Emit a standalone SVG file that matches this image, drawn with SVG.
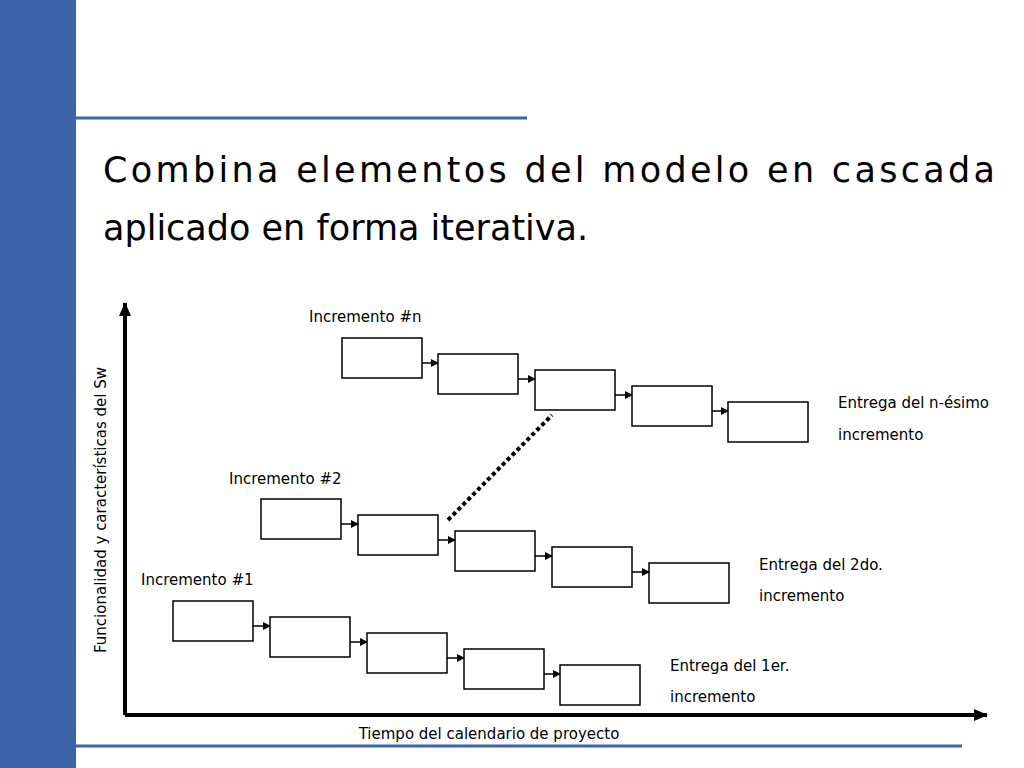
<svg xmlns="http://www.w3.org/2000/svg" width="1024" height="768" viewBox="0 0 1024 768">
<defs>
<style>
.b{fill:#fff;stroke:#000;stroke-width:1.5}
.c{stroke:#000;stroke-width:1.5;fill:none}
.t{font-family:"DejaVu Sans",sans-serif;font-size:15px;fill:#000}
.h{font-family:"Verdana","DejaVu Sans",sans-serif;font-size:35px;fill:#000}
</style>
<marker id="a" markerWidth="8" markerHeight="8" refX="7" refY="4" orient="auto" markerUnits="userSpaceOnUse"><path d="M0,0L8,4L0,8z" fill="#000"/></marker>
<marker id="ax" markerWidth="14" markerHeight="12" refX="13" refY="6" orient="auto" markerUnits="userSpaceOnUse"><path d="M0,0L14,6L0,12z" fill="#000"/></marker>
</defs>
<rect x="0" y="0" width="76" height="768" fill="#3B64A8"/>
<line x1="76" y1="118" x2="527" y2="118" stroke="#3B64A8" stroke-width="3"/>
<line x1="76" y1="746" x2="962" y2="746" stroke="#3B64A8" stroke-width="3"/>
<text class="h" x="103" y="182" textLength="892" lengthAdjust="spacing">Combina elementos del modelo en cascada</text>
<text class="h" x="103" y="240">aplicado en forma iterativa.</text>
<g id="axes">
<line x1="125" y1="715" x2="125" y2="303" stroke="#000" stroke-width="4" marker-end="url(#ax)"/>
<line x1="125" y1="715" x2="987" y2="715" stroke="#000" stroke-width="4" marker-end="url(#ax)"/>
<text class="t" x="489" y="739" text-anchor="middle">Tiempo del calendario de proyecto</text>
<text class="t" transform="translate(106,510) rotate(-90)" text-anchor="middle">Funcionalidad y características del Sw</text>
</g>
<g id="inc-n">
<text class="t" x="309" y="322">Incremento #n</text>
<rect class="b" x="342" y="338" width="80" height="40"/>
<rect class="b" x="438" y="354" width="80" height="40"/>
<rect class="b" x="535" y="370" width="80" height="40"/>
<rect class="b" x="632" y="386" width="80" height="40"/>
<rect class="b" x="728" y="402" width="80" height="40"/>
<text class="t" x="838" y="408">Entrega del n-ésimo</text>
<text class="t" x="838" y="440">incremento</text>
</g>
<g id="inc-2">
<text class="t" x="229" y="484">Incremento #2</text>
<rect class="b" x="261" y="499" width="80" height="40"/>
<rect class="b" x="358" y="515" width="80" height="40"/>
<rect class="b" x="455" y="531" width="80" height="40"/>
<rect class="b" x="552" y="547" width="80" height="40"/>
<rect class="b" x="649" y="563" width="80" height="40"/>
<text class="t" x="759" y="570">Entrega del 2do.</text>
<text class="t" x="759" y="601">incremento</text>
</g>
<g id="inc-1">
<text class="t" x="141" y="585">Incremento #1</text>
<rect class="b" x="173" y="601" width="80" height="40"/>
<rect class="b" x="270" y="617" width="80" height="40"/>
<rect class="b" x="367" y="633" width="80" height="40"/>
<rect class="b" x="464" y="649" width="80" height="40"/>
<rect class="b" x="560" y="665" width="80" height="40"/>
<text class="t" x="670" y="671">Entrega del 1er.</text>
<text class="t" x="670" y="702">incremento</text>
</g>
<g id="connectors">
<line class="c" x1="422" y1="363" x2="438" y2="363" marker-end="url(#a)"/>
<line class="c" x1="518" y1="379" x2="535" y2="379" marker-end="url(#a)"/>
<line class="c" x1="615" y1="395" x2="632" y2="395" marker-end="url(#a)"/>
<line class="c" x1="712" y1="411" x2="728" y2="411" marker-end="url(#a)"/>
<line class="c" x1="341" y1="524" x2="358" y2="524" marker-end="url(#a)"/>
<line class="c" x1="438" y1="540" x2="455" y2="540" marker-end="url(#a)"/>
<line class="c" x1="535" y1="556" x2="552" y2="556" marker-end="url(#a)"/>
<line class="c" x1="632" y1="572" x2="649" y2="572" marker-end="url(#a)"/>
<line class="c" x1="253" y1="626" x2="270" y2="626" marker-end="url(#a)"/>
<line class="c" x1="350" y1="642" x2="367" y2="642" marker-end="url(#a)"/>
<line class="c" x1="447" y1="658" x2="464" y2="658" marker-end="url(#a)"/>
<line class="c" x1="544" y1="674" x2="560" y2="674" marker-end="url(#a)"/>
<line x1="448" y1="520" x2="552" y2="415" stroke="#000" stroke-width="4" stroke-dasharray="4,3"/>
</g>
</svg>
